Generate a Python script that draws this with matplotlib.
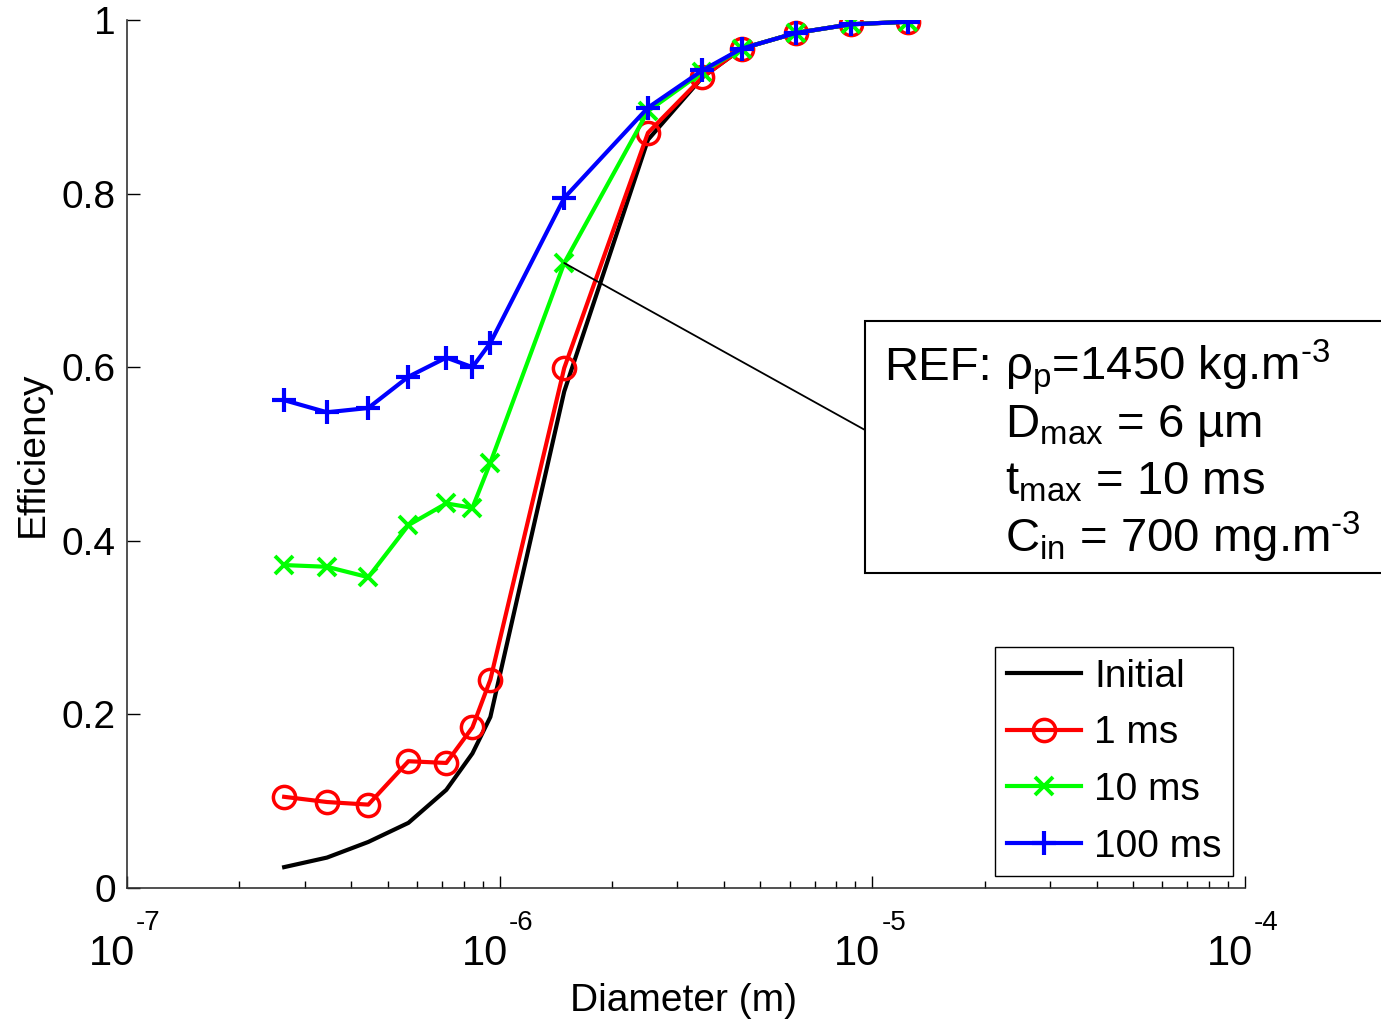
import matplotlib
matplotlib.use('Agg')
import matplotlib.pyplot as plt
from matplotlib.patches import Rectangle
from matplotlib.ticker import FixedLocator, LogLocator, NullFormatter
from matplotlib.transforms import offset_copy

plt.rcParams['font.family'] = ['Liberation Sans', 'DejaVu Sans']
plt.rcParams['mathtext.fontset'] = 'custom'
plt.rcParams['mathtext.rm'] = 'Liberation Sans'
plt.rcParams['mathtext.it'] = 'Liberation Sans:italic'
plt.rcParams['mathtext.default'] = 'rm'

# particle diameter (m)
diam = [2.64e-7, 3.44e-7, 4.44e-7, 5.69e-7, 7.19e-7, 8.45e-7, 9.44e-7,
        1.49e-6, 2.50e-6, 3.50e-6, 4.46e-6, 6.23e-6, 8.75e-6, 1.25e-5]

eff_initial = [0.024, 0.035, 0.053, 0.075, 0.113, 0.155, 0.197,
               0.572, 0.862, 0.934, 0.967, 0.985, 0.995, 0.998]
eff_1ms = [0.105, 0.099, 0.096, 0.146, 0.144, 0.185, 0.240,
           0.599, 0.870, 0.934, 0.967, 0.985, 0.995, 0.998]
eff_10ms = [0.372, 0.370, 0.358, 0.418, 0.443, 0.438, 0.490,
            0.720, 0.895, 0.940, 0.967, 0.985, 0.995, 0.998]
eff_100ms = [0.562, 0.548, 0.553, 0.589, 0.611, 0.600, 0.628,
             0.795, 0.899, 0.942, 0.967, 0.985, 0.995, 0.998]

xticks = [1e-7, 1e-6, 1e-5, 1e-4]
xexps = ['-7', '-6', '-5', '-4']

fig = plt.figure(figsize=(13.81, 10.19), dpi=100)
ax = fig.add_axes([0.092, 0.1286, 0.8095, 0.8518])

ax.plot(diam, eff_initial, color='k', lw=3, label='Initial')
ax.plot(diam, eff_1ms, color='r', lw=3, marker='o', ms=16, mfc='none',
        mew=2.5, label='1 ms')
ax.plot(diam, eff_10ms, color=(0, 1, 0), lw=3, marker='x', ms=13,
        mew=2.8, label='10 ms')
ax.plot(diam, eff_100ms, color='b', lw=3, marker='+', ms=17,
        mew=3, label='100 ms')

ax.set_xscale('log')
ax.set_xlim(1e-7, 1e-4)
ax.set_ylim(0, 1)

for s in ['top', 'right']:
    ax.spines[s].set_visible(False)
for s in ['left', 'bottom']:
    ax.spines[s].set_linewidth(1.2)
    ax.spines[s].set_color('#333333')

ax.xaxis.set_major_locator(FixedLocator(xticks))
ax.xaxis.set_minor_locator(LogLocator(base=10, subs=range(2, 10)))
ax.xaxis.set_minor_formatter(NullFormatter())
ax.xaxis.set_major_formatter(NullFormatter())
ax.set_yticks([0, 0.2, 0.4, 0.6, 0.8, 1])
ax.set_yticklabels(['0', '0.2', '0.4', '0.6', '0.8', '1'])

ax.tick_params(axis='x', which='major', direction='in', length=9, width=1)
ax.tick_params(axis='x', which='minor', direction='in', length=5, width=1)
ax.tick_params(axis='y', direction='in', length=9, width=1,
               labelsize=28, pad=8)

# decade labels: base and raised exponent
base_tr = offset_copy(ax.get_xaxis_transform(), fig=fig, x=8, y=-77,
                      units='dots')
exp_tr = offset_copy(ax.get_xaxis_transform(), fig=fig, x=9, y=-42,
                     units='dots')
for xt, e in zip(xticks, xexps):
    ax.text(xt, 0, '10', transform=base_tr, fontsize=30, ha='right',
            va='baseline')
    ax.text(xt, 0, e, transform=exp_tr, fontsize=20, ha='left',
            va='baseline')

fig.text(684 / 1381, 1 - 1011 / 1019, 'Diameter (m)', fontsize=28,
         ha='center', va='baseline')
ax.set_ylabel('Efficiency', fontsize=28, labelpad=8)

leg = ax.legend(loc='lower right', fontsize=28, frameon=True, fancybox=False,
                edgecolor='k', framealpha=1, handlelength=1.9,
                handletextpad=0.35, borderaxespad=0.3, labelspacing=0.53,
                borderpad=0.3, numpoints=1)
leg.get_frame().set_linewidth(1.0)

# parameter box with leader line
W, H = fig.bbox.width, fig.bbox.height
box = Rectangle((865 / W, 1 - 573 / H), 540 / W, 252 / H,
                transform=fig.transFigure, fill=True, fc='white',
                ec='k', lw=1.5, clip_on=False, zorder=5)
fig.patches.append(box)
ax.annotate('', xy=(diam[7], eff_10ms[7]), xycoords='data',
            xytext=(865 / W, 1 - 430 / H), textcoords='figure fraction',
            arrowprops=dict(arrowstyle='-', color='k', lw=1.3,
                            shrinkA=0, shrinkB=0))

fs = 34
fig.text(884 / W, 1 - 380 / H, 'REF:', fontsize=fs, va='baseline', zorder=6)
lines = [(380, r'ρ$_{\mathrm{p}}$=1450 kg.m$^{\text{-}3}$'),
         (437, r'D$_{\mathrm{max}}$ = 6 µm'),
         (495, r't$_{\mathrm{max}}$ = 10 ms'),
         (552, r'C$_{\mathrm{in}}$ = 700 mg.m$^{\text{-}3}$')]
for yb, s in lines:
    fig.text(1005 / W, 1 - yb / H, s, fontsize=fs, va='baseline', zorder=6)

fig.savefig('out.png', dpi=100)
